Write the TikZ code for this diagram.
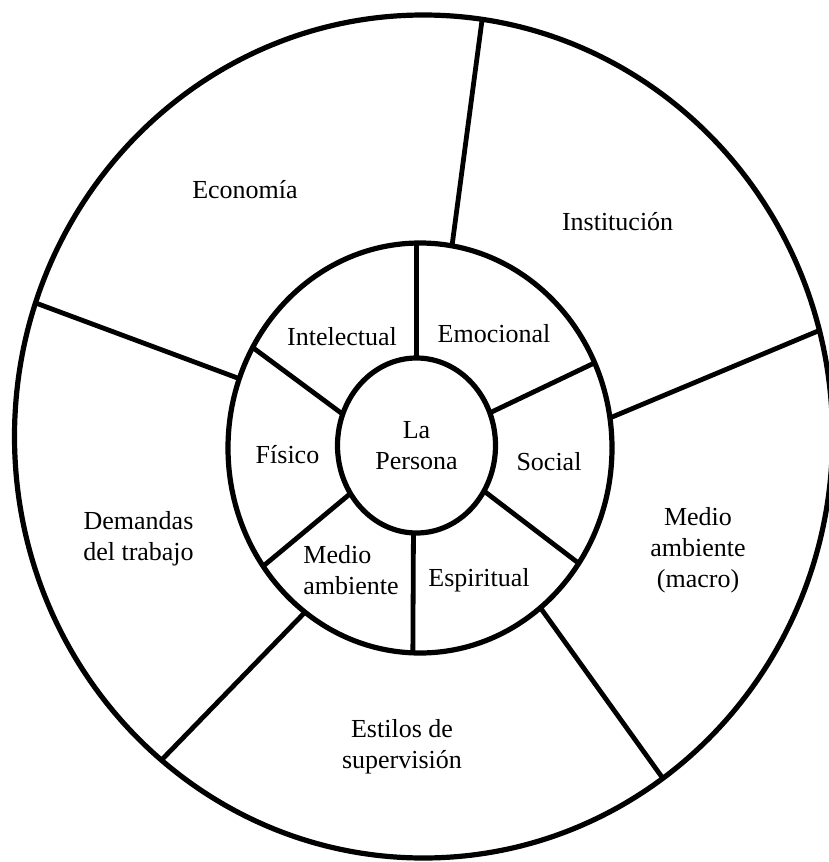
\documentclass[tikz,border=0pt]{standalone}
\usepackage{fontspec}
\setmainfont{Liberation Serif}
\usetikzlibrary{shapes.geometric}
\begin{document}
\begin{tikzpicture}[x=0.5pt,y=-0.5pt,
  font=\fontsize{13}{15.5}\selectfont,
  ring/.style={ellipse, draw, line width=2.6pt, inner sep=0pt, outer sep=0pt, align=center},
  spoke/.style={line width=2.4pt},
  lbl/.style={inner sep=0pt, align=center}]
\useasboundingbox (0,0) rectangle (829,862);

% the three rings
\node[ring, minimum width=409pt, minimum height=421.5pt] (outer) at (423.5,436.5) {};
\node[ring, minimum width=192pt, minimum height=205pt] (middle) at (420,448) {};
\node[ring, minimum width=79pt, minimum height=87.5pt] (core) at (416.5,445.5) {La\\Persona};

% spokes of the inner ring
\draw[spoke] (core.90)     -- (middle.91.1);
\draw[spoke] (core.157.2)  -- (middle.149.8);
\draw[spoke] (core.24.2)   -- (middle.26.7);
\draw[spoke] (core.-34)    -- (middle.-36.3);
\draw[spoke] (core.-144)   -- (middle.-143.7);
\draw[spoke] (core.-92.1)  -- (middle.-92.4);

% spokes of the outer ring
\draw[spoke] (middle.81.9)   -- (outer.82.8);
\draw[spoke] (middle.159.8)  -- (outer.161.1);
\draw[spoke] (middle.9.7)    -- (outer.15);
\draw[spoke] (middle.-53.2)  -- (outer.-55.6);
\draw[spoke] (middle.-125.7) -- (outer.-129);

% labels of the inner ring
\node[lbl] (intel) at (342,336.5) {Intelectual};
\node[lbl] (emoc) at (494,334) {Emocional};
\node[lbl] (fis) at (287.5,455) {Físico};
\node[lbl] (soc) at (549,461.5) {Social};
\node[lbl] (esp) at (479,580) {Espiritual};
\node[lbl, anchor=west, align=left] (medio) at (303,570.5) {Medio\\ambiente};

% labels of the outer ring
\node[lbl] (econ) at (245,190) {Economía};
\node[lbl] (inst) at (617.6,221.5) {Institución};
\node[lbl] (dem) at (138.5,539) {Demandas\\del trabajo};
\node[lbl] (macro) at (698,550) {Medio\\ambiente\\(macro)};
\node[lbl] (estilos) at (402,747) {Estilos de\\supervisión};
\end{tikzpicture}
\end{document}
